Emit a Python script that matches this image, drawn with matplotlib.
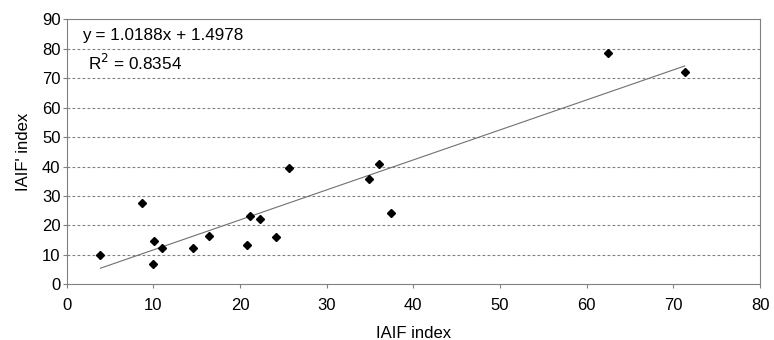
import matplotlib.pyplot as plt
import numpy as np

plt.rcParams['font.family'] = ['Liberation Sans', 'DejaVu Sans']

# IAIF index vs IAIF' index
iaif = [3.9, 8.65, 10.1, 10.0, 10.95, 14.6, 16.45, 20.85, 21.1, 22.3,
        24.2, 25.6, 34.9, 36.0, 37.4, 62.5, 71.3]
iaif_prime = [9.9, 27.5, 14.6, 7.0, 12.4, 12.4, 16.4, 13.3, 23.1, 22.3,
              16.1, 39.6, 35.9, 40.8, 24.3, 78.6, 72.0]
slope, intercept = 1.0188, 1.4978
r2 = 0.8354

fig = plt.figure(figsize=(7.74, 3.4), dpi=100)
ax = fig.add_axes([66.7 / 774, 1 - 284.3 / 340, (760 - 66.7) / 774, (284.3 - 19.3) / 340])

for yv in range(10, 90, 10):
    ax.axhline(yv, color='#808080', linewidth=0.8, linestyle=(0, (2.5, 2)), zorder=0)

ax.plot(iaif, iaif_prime, linestyle='none', marker='D', markersize=4.2,
        color='black', zorder=3)

# trend line
xs = np.array([min(iaif), max(iaif)])
ax.plot(xs, slope * xs + intercept, color='#707070', linewidth=0.8, zorder=2)

ax.set_xlim(0, 80)
ax.set_ylim(0, 90)
ax.set_xticks(range(0, 81, 10))
ax.set_yticks(range(0, 91, 10))
ax.tick_params(direction='out', length=3, width=0.8, color='#808080',
               labelsize=12)
ax.tick_params(axis='x', pad=7)
ax.tick_params(axis='y', pad=1.5)
for s in ax.spines.values():
    s.set_color('#808080')
    s.set_linewidth(0.8)

ax.set_xlabel('IAIF index', fontsize=12, labelpad=9)
ax.set_ylabel("IAIF' index", fontsize=12, labelpad=8)

fig.text(82 / 774, 1 - 40 / 340, f'y = {slope}x + {intercept}', fontsize=12.3,
         va='baseline')
fig.text(88 / 774, 1 - 70 / 340, f'R$^{{2}}$ = {r2}', fontsize=12.3,
         va='baseline')

fig.savefig('out.png', dpi=100)
